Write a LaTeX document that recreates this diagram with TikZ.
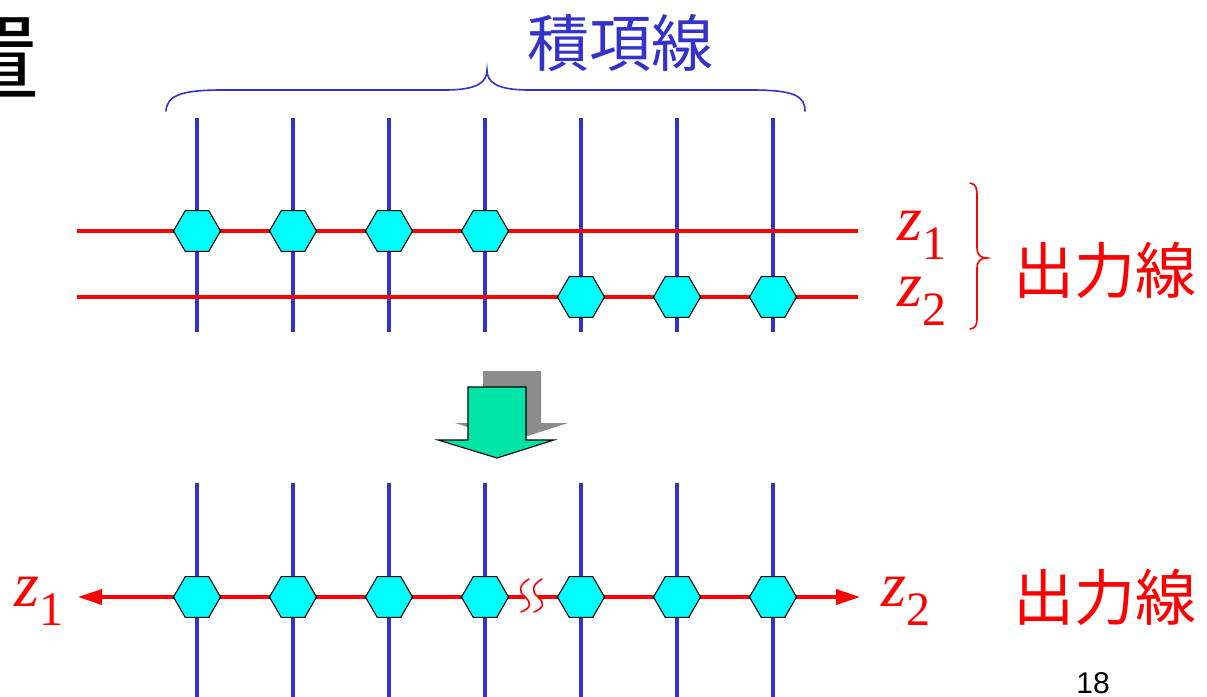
\documentclass[tikz,border=0pt]{standalone}
\usepackage{fontspec}
\setmainfont{Liberation Serif}
\newfontfamily\cjk{Noto Sans CJK JP}
\newfontfamily\sansdigits{Liberation Sans}
\usetikzlibrary{shapes.geometric,arrows.meta}

\definecolor{termblue}{RGB}{51,51,204}
\definecolor{outred}{RGB}{255,0,0}
\definecolor{cellcyan}{RGB}{0,255,255}
\definecolor{arrowgreen}{RGB}{0,228,168}
\definecolor{shadowgray}{RGB}{140,140,140}

\tikzset{
  termline/.style={draw=termblue, line width=4pt},
  outline/.style={draw=outred, line width=3.5pt},
  cell/.style={regular polygon, regular polygon sides=6, minimum size=47pt,
               inner sep=0pt, fill=cellcyan, draw=black, line width=1.1pt},
  jlabel/.style={font=\cjk\fontsize{61}{61}\selectfont, inner sep=0pt},
  zlabel/.style={font=\fontsize{64}{64}\selectfont, text=outred, inner sep=0pt, anchor=base west},
  thinbrace/.style={line width=1.6pt, line cap=round},
}
\newcommand{\zsub}[1]{\textit{z}\raisebox{-19pt}{\fontsize{48}{48}\selectfont #1}}

\begin{document}
\begin{tikzpicture}[x=1pt, y=-1pt]
  \useasboundingbox (0,0) rectangle (1207,696);
  \clip (0,0) rectangle (1207,696);

  % heading character, cut by the left edge
  \node[font=\cjk\fontsize{95}{95}\selectfont, inner sep=0pt, anchor=base east] (head) at (40,93) {置};

  % ---------- upper panel ----------
  \foreach \i in {1,...,7} {
    \coordinate (ut\i) at ({197+96*(\i-1)},118);
    \coordinate (ub\i) at ({197+96*(\i-1)},332);
    \draw[termline] (ut\i) -- (ub\i);
  }
  \coordinate (r1a) at (77,231);  \coordinate (r1b) at (858,231);
  \coordinate (r2a) at (77,297);  \coordinate (r2b) at (858,297);
  \draw[outline] (r1a) -- (r1b);
  \draw[outline] (r2a) -- (r2b);
  \foreach \i in {1,...,4} {
    \node[cell] (ua\i) at ({197+96*(\i-1)},231) {};
  }
  \foreach \i in {5,6,7} {
    \node[cell] (ua\i) at ({197+96*(\i-1)},297) {};
  }

  % product-term brace and label
  \draw[termblue, thinbrace] (166,111) .. controls (167,96) and (180,90) .. (222,90)
     -- (445,90) .. controls (478,90) and (487,82) .. (487,70)
     .. controls (487,82) and (496,90) .. (529,90)
     -- (752,90) .. controls (794,90) and (805,96) .. (805,111);
  \node[jlabel, text=termblue, font=\cjk\fontsize{62}{62}\selectfont] (terms) at (620,43) {積項線};

  % output labels and brace
  \node[zlabel] (z1u) at (897,240) {\zsub{1}};
  \node[zlabel] (z2u) at (897,306) {\zsub{2}};
  \draw[outred, thinbrace] (970,183) .. controls (976,184) and (977,188) .. (977,196)
     -- (977,248) .. controls (977,254) and (980,258) .. (987,258)
     .. controls (980,258) and (977,262) .. (977,268)
     -- (977,317) .. controls (977,325) and (976,328) .. (970,329);
  \node[jlabel, text=outred] (outu) at (1105,270) {出力線};

  % ---------- transformation arrow ----------
  \fill[shadowgray] (483,371) -- (541,371) -- (541,423) -- (568,423) -- (512,441)
     -- (455,423) -- (483,423) -- cycle;
  \draw[fill=arrowgreen, draw=black, line width=1.1pt, line join=miter]
     (468,387) -- (526,387) -- (526,440) -- (554,440) -- (497,458)
     -- (438,440) -- (468,440) -- cycle;

  % ---------- lower panel ----------
  \foreach \i in {1,...,7} {
    \coordinate (lt\i) at ({197+96*(\i-1)},483);
    \coordinate (lb\i) at ({197+96*(\i-1)},700);
    \draw[termline] (lt\i) -- (lb\i);
  }
  \coordinate (la) at (78,597);   \coordinate (lc) at (525,597);
  \coordinate (ld) at (538,597);  \coordinate (lb) at (860,597);
  \draw[outline, -{Triangle[length=24pt,width=15pt]}] (lc) -- (la);
  \draw[outline, -{Triangle[length=24pt,width=15pt]}] (ld) -- (lb);
  % break marks on the joined output line
  \foreach \dx in {0,13} {
    \draw[outred, line width=1.6pt, line cap=round, xshift=\dx pt]
      (529,579) .. controls (519,585) and (518,591) .. (525,597)
      .. controls (532,603) and (531,608) .. (521,612);
  }
  \foreach \i in {1,...,7} {
    \node[cell] (la\i) at ({197+96*(\i-1)},597) {};
  }
  \node[zlabel] (z1l) at (14,606) {\zsub{1}};
  \node[zlabel] (z2l) at (881,606) {\zsub{2}};
  \node[jlabel, text=outred] (outl) at (1105,597) {出力線};

  % page number
  \node[font=\sansdigits\fontsize{30}{30}\selectfont, inner sep=0pt, anchor=base] (pg) at (1093,693) {18};
\end{tikzpicture}
\end{document}
